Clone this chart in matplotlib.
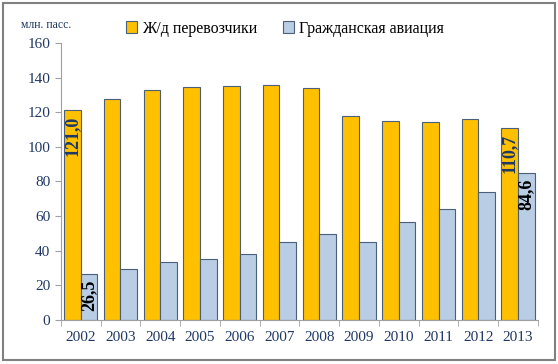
import numpy as np
import matplotlib
matplotlib.use("Agg")
import matplotlib.pyplot as plt
from matplotlib.patches import Rectangle

years = ["2002", "2003", "2004", "2005", "2006", "2007",
         "2008", "2009", "2010", "2011", "2012", "2013"]
rail = [121.0, 127.5, 132.9, 134.4, 135.0, 135.5,
        134.0, 117.8, 115.2, 114.6, 116.3, 110.7]
air = [26.5, 29.3, 33.7, 35.0, 38.1, 45.2,
       49.9, 45.2, 56.8, 64.1, 74.1, 84.6]
rail_name = "Ж/д перевозчики"
air_name = "Гражданская авиация"
unit = "млн. пасс."

navy = "#1F3864"
edge = "#4A5F7A"

plt.rcParams['font.family'] = ['Liberation Serif', 'DejaVu Serif']

fig = plt.figure(figsize=(5.58, 3.64), dpi=100)
ax = fig.add_axes([0.109, 0.121, 0.855, 0.761])

x = np.arange(len(years))
w = 0.42
b1 = ax.bar(x - w / 2, rail, w, color="#FFC000", edgecolor=edge, linewidth=0.8, label=rail_name)
b2 = ax.bar(x + w / 2, air, w, color="#B9CDE5", edgecolor=edge, linewidth=0.8, label=air_name)

# labels only on first and last year
for i in [0, len(years) - 1]:
    ax.text(x[i] - w / 2, rail[i] - 3, f"{rail[i]:.1f}".replace(".", ","), rotation=90,
            ha="center", va="top", fontsize=13, fontweight="bold", color=navy)
    ax.text(x[i] + w / 2, air[i] - 3, f"{air[i]:.1f}".replace(".", ","), rotation=90,
            ha="center", va="top", fontsize=13, fontweight="bold", color="black")

ax.set_xlim(-0.5, len(years) - 0.5)
ax.set_ylim(0, 160)
ax.set_yticks(range(0, 161, 20))
ax.tick_params(axis="y", colors="#A0A0A0", labelcolor=navy, labelsize=11, length=4, direction="out")
ax.set_xticks(x)
ax.set_xticklabels(years)
ax.set_xticks(np.arange(-0.5, len(years)), minor=True)
ax.tick_params(axis="x", which="major", length=0, labelcolor=navy, labelsize=11, pad=8)
ax.tick_params(axis="x", which="minor", length=4, color="#A0A0A0")
for s in ["top", "right"]:
    ax.spines[s].set_visible(False)
ax.spines["left"].set_color("#A0A0A0")
ax.spines["bottom"].set_color("#A0A0A0")

fig.text(0.083, 0.932, unit, fontsize=8.5, color=navy, ha="center", va="center")
ax.legend(loc="center", bbox_to_anchor=(0.47, 1.052), ncol=2, frameon=False,
          fontsize=11.5, handlelength=0.7, handleheight=0.7, handletextpad=0.3,
          columnspacing=1.6, borderaxespad=0)

fig.patches.append(Rectangle((0.006, 0.01), 0.988, 0.982, transform=fig.transFigure,
                             fill=False, edgecolor="#808080", linewidth=1.5))

fig.savefig("out.png", dpi=100)
